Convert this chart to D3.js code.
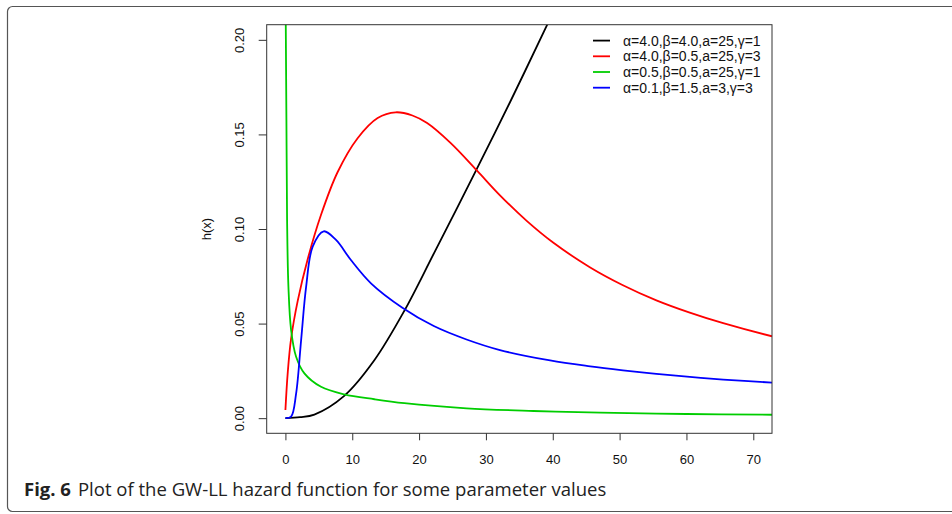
<!DOCTYPE html>
<html>
<head>
<meta charset="utf-8">
<script src="https://cdn.jsdelivr.net/npm/d3@7"></script>
<style>
  html, body { margin: 0; padding: 0; background: #fff; }
  svg { display: block; }
</style>
</head>
<body>
<svg id="chart" width="952" height="514"></svg>
<script>
// Hazard curves h(x) of the GW-LL distribution, sampled as [x, h(x)] pairs
const seriesLabels = [
  "α=4.0,β=4.0,a=25,γ=1",
  "α=4.0,β=0.5,a=25,γ=3",
  "α=0.5,β=0.5,a=25,γ=1",
  "α=0.1,β=1.5,a=3,γ=3"
];
const seriesColors = ["#000000", "#ff0000", "#00cd00", "#0000ff"];

const blackCurve = [
  [0, 0], [2.2, 0.0005], [4.33, 0.0019], [8.8, 0.0118], [13.3, 0.0306],
  [17.8, 0.0568], [22.2, 0.0870], [28.6, 0.1315], [33.6, 0.1670], [39.1, 0.2075],
  [42, 0.229]
];
const redCurve = [
  [0, 0.0043], [0.34, 0.0237], [0.85, 0.042], [1.84, 0.062], [3.33, 0.084],
  [5.33, 0.1075], [7.8, 0.130], [10.8, 0.148], [13.8, 0.1587], [16.5, 0.1617],
  [19, 0.160], [21.2, 0.156], [24.7, 0.1455], [28.6, 0.1311], [32.1, 0.1178],
  [36.1, 0.1043], [40.1, 0.0927], [45.6, 0.0797], [50.5, 0.0703], [55.5, 0.0623],
  [60.5, 0.0558], [65.5, 0.0502], [72.8, 0.0433]
];
const greenCurve = [
  [0.04, 0.215], [0.15, 0.1576], [0.25, 0.1048], [0.45, 0.0695], [0.85, 0.0466],
  [1.6, 0.0325], [2.84, 0.0237], [5.33, 0.0166], [8.8, 0.0126], [13.3, 0.0100],
  [17.8, 0.0079], [27.1, 0.0052], [37.1, 0.0038], [47.1, 0.0029], [60, 0.0022],
  [72.8, 0.0018]
];
const blueCurve = [
  [0, 0], [0.85, 0.0008], [1.6, 0.013], [2.35, 0.0413], [3.1, 0.0695],
  [4.08, 0.0907], [5.73, 0.0988], [7.57, 0.0942], [9.8, 0.0836], [12.8, 0.0713],
  [17.5, 0.0584], [22.2, 0.0487], [27.1, 0.0416], [32.1, 0.0360], [39.6, 0.0305],
  [45.6, 0.0274], [50.5, 0.0253], [55.5, 0.0234], [60.5, 0.0218], [65.5, 0.0204],
  [72.8, 0.0188]
];
const curves = [blackCurve, redCurve, greenCurve, blueCurve];

const xTicks = [0, 10, 20, 30, 40, 50, 60, 70];
const yTicks = [0, 0.05, 0.10, 0.15, 0.20];
const yTickLabels = ["0.00", "0.05", "0.10", "0.15", "0.20"];
const yTitle = "h(x)";
const captionLead = "Fig. 6";
const captionText = "Plot of the GW-LL hazard function for some parameter values";

const svg = d3.select("#chart");
const axisFont = "'Liberation Sans', Arial, Helvetica, sans-serif";

// Rounded frame around the figure and its caption
svg.append("rect")
  .attr("x", 7.5).attr("y", 6.5)
  .attr("width", 1000).attr("height", 505)
  .attr("rx", 5).attr("ry", 5)
  .attr("fill", "none")
  .attr("stroke", "#555").attr("stroke-width", 1.2);

// Plot region
const plot = { left: 266.7, right: 772, top: 24.7, bottom: 433.3 };

// R-style axis limits: data range extended by 4% on each side
const xLim = [0, 70], yLim = [0, 0.2];
const xPad = (xLim[1] - xLim[0]) * 0.04, yPad = (yLim[1] - yLim[0]) * 0.04;
const x = d3.scaleLinear().domain([xLim[0] - xPad, xLim[1] + xPad]).range([plot.left, plot.right]);
const y = d3.scaleLinear().domain([yLim[0] - yPad, yLim[1] + yPad]).range([plot.bottom, plot.top]);

svg.append("clipPath").attr("id", "plot-clip")
  .append("rect")
  .attr("x", plot.left).attr("y", plot.top)
  .attr("width", plot.right - plot.left).attr("height", plot.bottom - plot.top);

// Curves
const line = d3.line()
  .x(d => x(d[0]))
  .y(d => y(d[1]))
  .curve(d3.curveCatmullRom.alpha(0.5));

svg.append("g").attr("clip-path", "url(#plot-clip)")
  .selectAll("path")
  .data(curves)
  .join("path")
  .attr("d", line)
  .attr("fill", "none")
  .attr("stroke", (d, i) => seriesColors[i])
  .attr("stroke-width", 1.8)
  .attr("stroke-linejoin", "round");

// Box
svg.append("rect")
  .attr("x", plot.left).attr("y", plot.top)
  .attr("width", plot.right - plot.left).attr("height", plot.bottom - plot.top)
  .attr("fill", "none").attr("stroke", "#333").attr("stroke-width", 1);

// X axis
const xAxis = svg.append("g")
  .attr("transform", `translate(0,${plot.bottom})`)
  .call(d3.axisBottom(x).tickValues(xTicks).tickSize(7).tickSizeOuter(0).tickPadding(14).tickFormat(d3.format("d")));
xAxis.select(".domain").remove();
xAxis.selectAll(".tick line").attr("stroke", "#333");
xAxis.selectAll(".tick text")
  .attr("font-family", axisFont).attr("font-size", 13).attr("fill", "#111");

// Y axis with labels rotated parallel to the axis
const yAxis = svg.append("g")
  .attr("transform", `translate(${plot.left},0)`)
  .call(d3.axisLeft(y).tickValues(yTicks).tickSize(8).tickSizeOuter(0).tickFormat((d, i) => yTickLabels[i]));
yAxis.select(".domain").remove();
yAxis.selectAll(".tick line").attr("stroke", "#333");
yAxis.selectAll(".tick text")
  .attr("font-family", axisFont).attr("font-size", 13).attr("fill", "#111")
  .attr("x", null)
  .attr("text-anchor", "middle")
  .attr("transform", "translate(-27.5,0) rotate(-90)")
  .attr("dy", "0.35em");

// Y axis title
svg.append("text")
  .attr("transform", `translate(206,${(plot.top + plot.bottom) / 2}) rotate(-90)`)
  .attr("text-anchor", "middle")
  .attr("dy", "0.35em")
  .attr("font-family", axisFont).attr("font-size", 13).attr("fill", "#111")
  .text(yTitle);

// Legend (no box)
const legend = svg.append("g");
const legendRows = legend.selectAll("g")
  .data(seriesLabels)
  .join("g")
  .attr("transform", (d, i) => `translate(0,${40.6 + i * 15.7})`);
legendRows.append("line")
  .attr("x1", 593).attr("x2", 610)
  .attr("stroke", (d, i) => seriesColors[i]).attr("stroke-width", 1.8);
legendRows.append("text")
  .attr("x", 623).attr("dy", "0.35em")
  .attr("font-family", axisFont).attr("font-size", 14).attr("fill", "#111")
  .text(d => d);

// Caption
const caption = svg.append("text")
  .attr("x", 24).attr("y", 496)
  .attr("font-family", "'Open Sans', 'Noto Sans', sans-serif")
  .attr("font-size", 17).attr("fill", "#222");
caption.append("tspan").attr("font-weight", "bold").text(captionLead);
caption.append("tspan").attr("dx", 7).text(captionText);
// fit the caption line to its measured extent
const capW = caption.node().getComputedTextLength();
const targetW = 576;
caption.attr("font-size", 17 * targetW / capW);
</script>
</body>
</html>
